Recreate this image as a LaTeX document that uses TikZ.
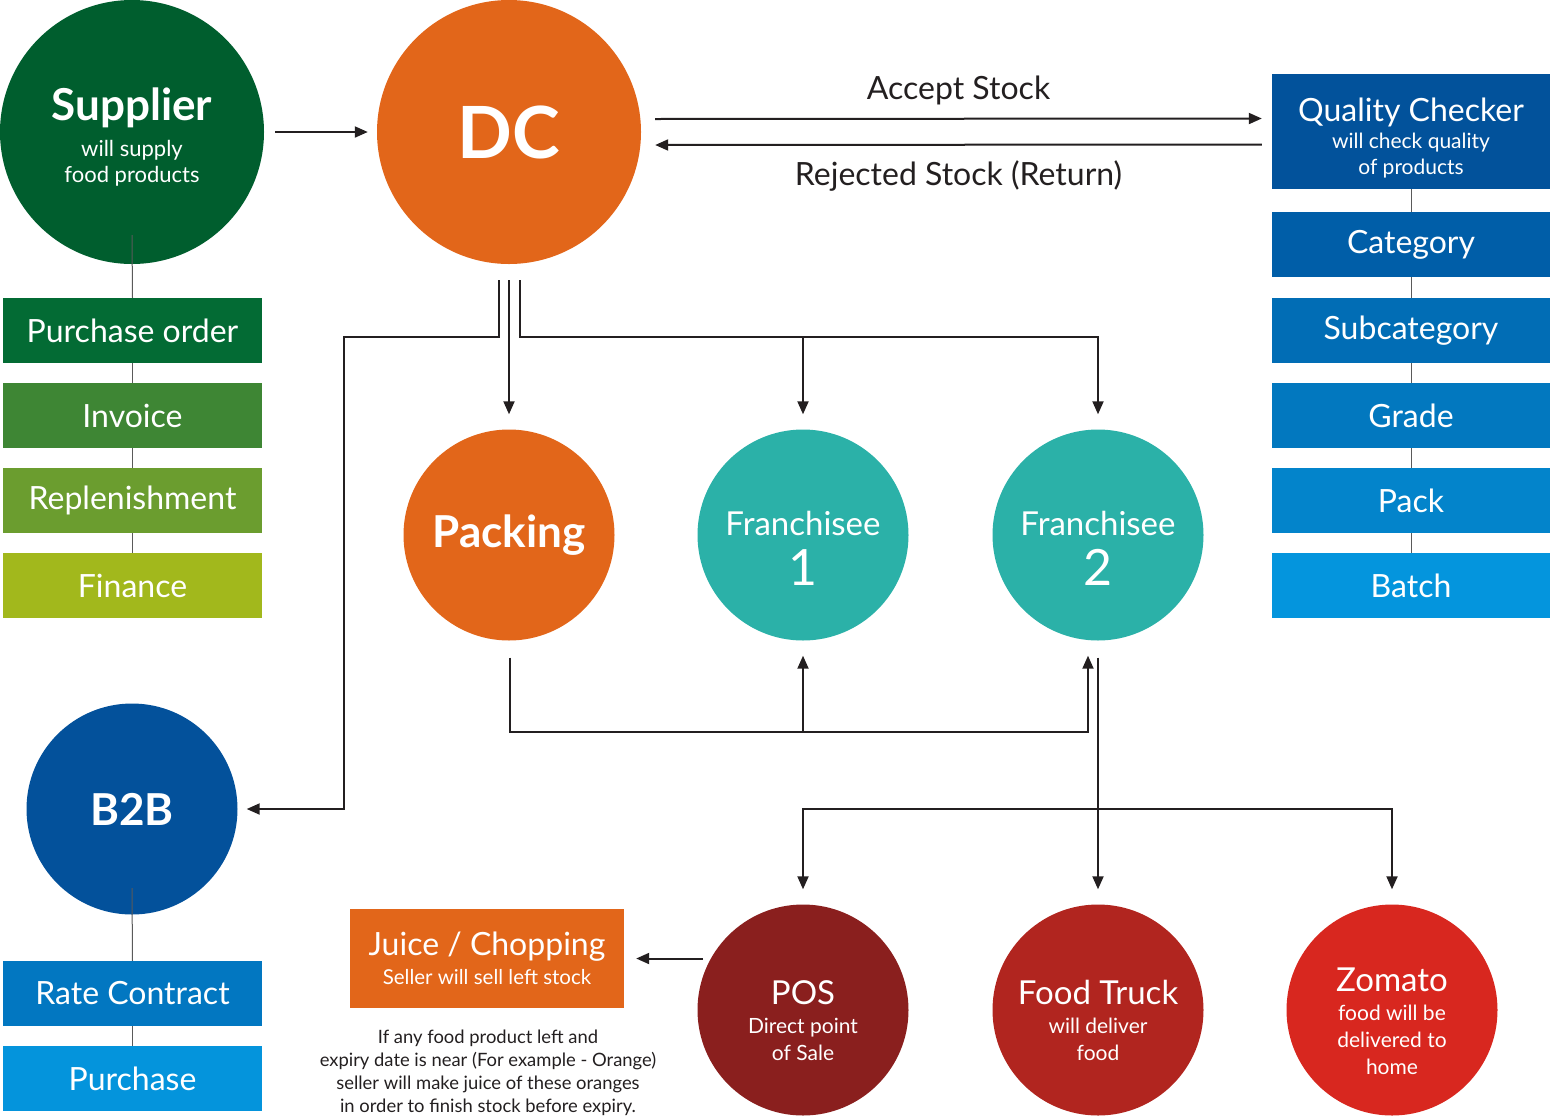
\documentclass[tikz,border=0pt]{standalone}
\usepackage{fontspec}
\setmainfont{Lato}
\usetikzlibrary{arrows.meta,calc}
\newcommand{\fsz}[2]{\fontsize{#1}{#2}\selectfont}
\newcommand{\tst}{\rule{0pt}{50pt}}
\definecolor{cSup}{HTML}{005E2E}
\definecolor{cPO}{HTML}{036B34}
\definecolor{cInv}{HTML}{3E8634}
\definecolor{cRep}{HTML}{6B9D2F}
\definecolor{cFin}{HTML}{A2B81C}
\definecolor{cOr}{HTML}{E2661A}
\definecolor{cQC}{HTML}{02529B}
\definecolor{cCat}{HTML}{005EA8}
\definecolor{cSub}{HTML}{016DB5}
\definecolor{cGra}{HTML}{0278BF}
\definecolor{cPck}{HTML}{0384CB}
\definecolor{cBat}{HTML}{0495DD}
\definecolor{cFr}{HTML}{2BB1A8}
\definecolor{cBtoB}{HTML}{03519B}
\definecolor{cRC}{HTML}{0277C1}
\definecolor{cPur}{HTML}{0494DC}
\definecolor{cPOS}{HTML}{8A1F1E}
\definecolor{cFT}{HTML}{B1251F}
\definecolor{cZom}{HTML}{D8271F}
\definecolor{cInk}{HTML}{231F20}
\definecolor{cLink}{HTML}{5A5A5A}
\begin{document}
\begin{tikzpicture}[x=1pt,y=-1pt,
  arr/.style={draw=cInk, line width=2pt, -{Triangle[length=13pt,width=11pt]}},
  link/.style={draw=cLink, line width=1pt},
  bigc/.style={circle, minimum size=264pt, inner sep=0pt, text=white, align=center},
  midc/.style={circle, minimum size=211pt, inner sep=0pt, text=white, align=center},
  ctext/.style={text=white, align=center, inner sep=0pt, anchor=north},
  lbox/.style={rectangle, minimum width=259pt, minimum height=65pt, inner sep=0pt, text=white, font=\fsz{32}{38}},
  rbox/.style={rectangle, minimum width=278pt, minimum height=65pt, inner sep=0pt, text=white, font=\fsz{32}{38}},
  lbl/.style={text=cInk, font=\fsz{32}{38}, inner sep=0pt}
]
\useasboundingbox (0,0) rectangle (1552,1117);

% --- top row circles
\node[bigc, fill=cSup] (sup) at (132,132) {};
\node[ctext, font=\fsz{22}{26}] (suptxt) at ([shift={(0,-62)}]sup.center)
  {{\fsz{44}{50}\bfseries\tst Supplier}\\[10pt]will supply\\food products};
\node[bigc, fill=cOr, font=\fsz{72}{80}\bfseries] (dc) at (509,132) {DC};

% --- supplier boxes
\node[lbox, fill=cPO]  (po)  at (132.5,330.5) {Purchase order};
\node[lbox, fill=cInv] (inv) at (132.5,415.5) {Invoice};
\node[lbox, fill=cRep] (rep) at (132.5,500.5) {Replenishment};
\node[lbox, fill=cFin] (fin) at (132.5,585.5) {Finance};

% --- quality checker column
\node[rbox, fill=cQC, minimum height=115pt] (qc) at (1411,131.5) {};
\node[ctext, font=\fsz{21}{26}] (qctxt) at ([shift={(0,-60.5)}]qc.center)
  {{\fsz{32}{38}\tst Quality Checker}\\[1pt]will check quality\\of products};
\node[rbox, fill=cCat] (cat) at (1411,244.5) {Category};
\node[rbox, fill=cSub] (sub) at (1411,330.5) {Subcategory};
\node[rbox, fill=cGra] (gra) at (1411,415.5) {Grade};
\node[rbox, fill=cPck] (pck) at (1411,500.5) {Pack};
\node[rbox, fill=cBat] (bat) at (1411,585.5) {Batch};

% --- middle row
\node[midc, fill=cOr, font=\fsz{44}{50}\bfseries] (pack) at (509,535) {Packing};
\node[midc, fill=cFr] (fr1) at (803,535) {};
\node[ctext, font=\fsz{33}{40}] (fr1txt) at ([shift={(0,-50)}]fr1.center)
  {{\tst Franchisee}\\[10pt]{\fsz{50}{50}1}};
\node[midc, fill=cFr] (fr2) at (1098,535) {};
\node[ctext, font=\fsz{33}{40}] (fr2txt) at ([shift={(0,-50)}]fr2.center)
  {{\tst Franchisee}\\[10pt]{\fsz{50}{50}2}};

% --- B2B
\node[midc, fill=cBtoB, font=\fsz{44}{50}\bfseries] (b2b) at (132,809) {B2B};
\node[lbox, fill=cRC]  (rc)  at (132.5,993.5) {Rate Contract};
\node[lbox, fill=cPur] (pur) at (132.5,1078.5) {Purchase};

% --- bottom row
\node[midc, fill=cPOS] (pos) at (803,1010) {};
\node[ctext, font=\fsz{21}{27}] (postxt) at ([shift={(0,-56)}]pos.center)
  {{\fsz{33}{38}\tst POS}\\[2pt]Direct point\\of Sale};
\node[midc, fill=cFT] (truck) at (1098,1010) {};
\node[ctext, font=\fsz{21}{27}] (trucktxt) at ([shift={(0,-56)}]truck.center)
  {{\fsz{33}{38}\tst Food Truck}\\[2pt]will deliver\\food};
\node[midc, fill=cZom] (zom) at (1392,1010) {};
\node[ctext, font=\fsz{21}{27}] (zomtxt) at ([shift={(0,-69)}]zom.center)
  {{\fsz{33}{38}\tst Zomato}\\[2pt]food will be\\delivered to\\home};

\node[rectangle, fill=cOr, minimum width=274pt, minimum height=99pt, inner sep=0pt,
      text=white, align=center, font=\fsz{20.5}{24}] (juice) at (487,958.5)
  {{\fsz{32}{38}Juice / Chopping}\\[5pt]Seller will sell left stock};
\node[text=cInk, align=center, font=\fsz{18.4}{23}, inner sep=0pt, anchor=north] (note) at (488,1030)
  {If any food product left and\\expiry date is near (For example - Orange)\\seller will make juice of these oranges\\in order to finish stock before expiry.};

% --- grey links
\draw[link] ([shift={(0,103)}]sup.center) -- (po.north);
\draw[link] (po.south) -- (inv.north);
\draw[link] (inv.south) -- (rep.north);
\draw[link] (rep.south) -- (fin.north);
\draw[link] (qc.south) -- (cat.north);
\draw[link] (cat.south) -- (sub.north);
\draw[link] (sub.south) -- (gra.north);
\draw[link] (gra.south) -- (pck.north);
\draw[link] (pck.south) -- (bat.north);
\draw[link] ([shift={(0,79)}]b2b.center) -- (rc.north);
\draw[link] (rc.south) -- (pur.north);

% --- coordinates for buses
\coordinate (busA) at (0,337);
\coordinate (busB) at (0,732);
\coordinate (busC) at (0,809);
\coordinate (b2bin) at ([shift={(9,0)}]b2b.east);
\coordinate (f2in) at ([shift={(-10,15)}]fr2.south);

% --- arrows
\draw[arr, shorten <=11pt, shorten >=9pt] (sup.east) -- (dc.west);
\draw[arr] ([shift={(14,-13)}]dc.east) -- node[lbl, anchor=base, yshift=19pt] (acc) {Accept Stock} ([shift={(-10,-13)}]qc.west);
\draw[arr] ([shift={(-10,13)}]qc.west) -- node[lbl, anchor=base, yshift=-41pt] (rej) {Rejected Stock (Return)} ([shift={(14,13)}]dc.east);

\draw[arr] ([shift={(-10,16)}]dc.south) -- ++(0,57) -| ($(b2bin)+(97,0)$) -- (b2bin);
\draw[arr, shorten >=15pt] ([shift={(0,16)}]dc.south) -- (pack.north);
\draw[arr, shorten >=15pt] ([shift={(11,16)}]dc.south) -- ++(0,57) -| (fr2.north);
\draw[arr, shorten >=15pt] (fr1.north |- busA) -- (fr1.north);

\draw[arr] ([shift={(1,17)}]pack.south) |- (f2in |- busB) -- (f2in);
\draw[arr, shorten >=15pt] (fr1.south |- busB) -- (fr1.south);

\draw[arr, shorten >=15pt] ([shift={(0,17)}]fr2.south) -- (truck.north);
\draw[arr, shorten >=15pt] (truck.north |- busC) -| (pos.north);
\draw[arr, shorten >=15pt] (truck.north |- busC) -| (zom.north);

\draw[arr, shorten >=12pt] ([xshift=-100pt]pos.center |- juice.east) -- (juice.east);
\end{tikzpicture}
\end{document}
